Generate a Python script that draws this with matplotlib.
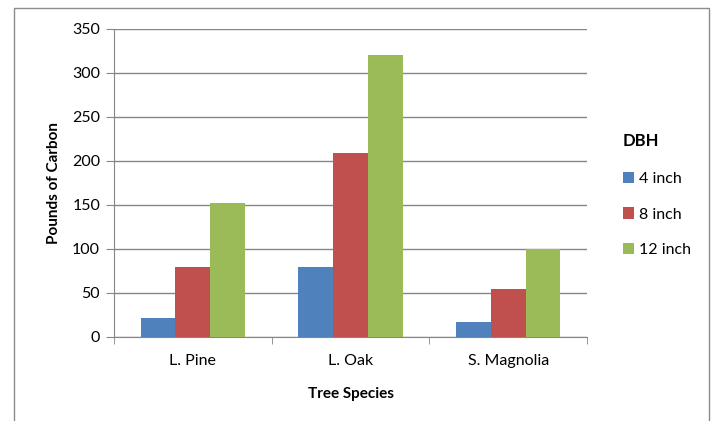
import numpy as np
import matplotlib
matplotlib.use("Agg")
import matplotlib.pyplot as plt
from matplotlib.patches import Rectangle

species = ["L. Pine", "L. Oak", "S. Magnolia"]
series_names = ["4 inch", "8 inch", "12 inch"]
dbh_4 = [22, 80, 17]
dbh_8 = [80, 209, 54]
dbh_12 = [152, 321, 100]
colors = ["#4F81BD", "#C0504D", "#9BBB59"]
yticks = [0, 50, 100, 150, 200, 250, 300, 350]

plt.rcParams["font.family"] = ["Lato", "DejaVu Sans"]

fig = plt.figure(figsize=(7.14, 4.21), dpi=100)
fig.patches.append(Rectangle((14 / 714, -0.1), (709 - 14) / 714, 1.1 - 8 / 421,
                             transform=fig.transFigure, fill=False,
                             edgecolor="#8c8c8c", linewidth=1.0))

ax = fig.add_axes([114 / 714, 1 - 337 / 421, (587 - 114) / 714, (337 - 29) / 421])

x = np.arange(len(species))
w = 0.22
for i, (vals, name) in enumerate(zip([dbh_4, dbh_8, dbh_12], series_names)):
    ax.bar(x + (i - 1) * w, vals, w, color=colors[i], label=name, zorder=3)

ax.set_xlim(-0.5, 2.5)
ax.set_ylim(0, 350)
ax.set_yticks(yticks)
ax.yaxis.grid(True, color="#868686", linewidth=1.0, zorder=0)
ax.set_xticks(x)
ax.set_xticklabels(species, fontsize=11.5)
ax.set_xticks([-0.5, 0.5, 1.5, 2.5], minor=True)
ax.tick_params(axis="x", which="major", length=0, pad=12)
ax.tick_params(axis="x", which="minor", length=5, color="#868686", direction="out")
ax.tick_params(axis="y", length=6, color="#868686", labelsize=11.5, pad=4)
for s in ["top", "right"]:
    ax.spines[s].set_visible(False)
ax.spines["left"].set_color("#868686")
ax.spines["bottom"].set_color("#868686")

ax.set_xlabel("Tree Species", fontweight="bold", fontsize=11, labelpad=14)
ax.set_ylabel("Pounds of Carbon", fontweight="bold", fontsize=11, labelpad=8)

leg = ax.legend(title="DBH", loc="center left", bbox_to_anchor=(1.045, 0.46),
                frameon=False, fontsize=11.5, handlelength=0.7, handleheight=0.7,
                handletextpad=0.3, labelspacing=1.35)
leg.get_title().set_fontweight("bold")
leg.get_title().set_fontsize(12)
leg._legend_box.align = "left"
leg._legend_box.sep = 16

fig.savefig("out.png", dpi=100)
